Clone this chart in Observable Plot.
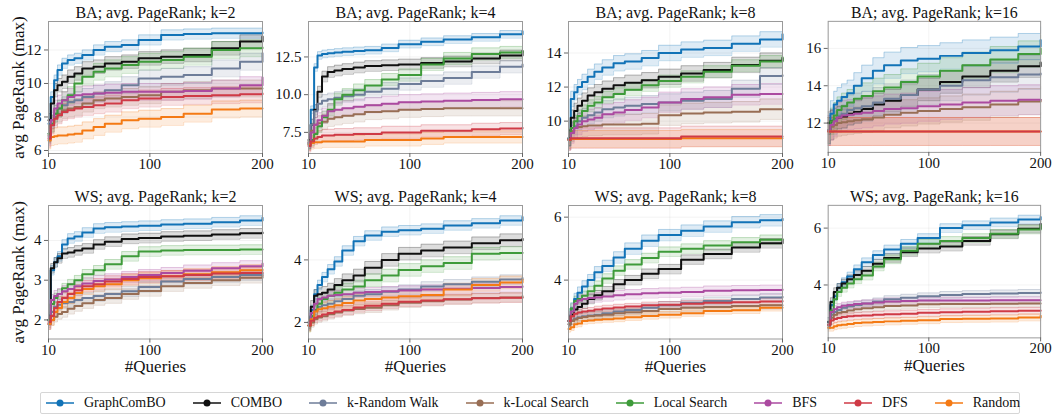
<!DOCTYPE html>
<html>
<head>
<meta charset="utf-8">
<script src="https://cdn.jsdelivr.net/npm/d3@7"></script>
<script src="https://cdn.jsdelivr.net/npm/@observablehq/plot@0.6"></script>
<style>
  html, body { margin: 0; padding: 0; background: #fff; }
  #root { position: relative; width: 1058px; height: 417px; font-family: "Liberation Serif", "DejaVu Serif", serif; }
  .panel { position: absolute; }
  .panel svg, .panel svg text { font-family: "Liberation Serif", "DejaVu Serif", serif !important; font-variant-numeric: normal !important; }
  #legend {
    position: absolute; left: 40px; top: 392px; width: 980px; height: 22px;
    border: 1px solid #d6d6d6; border-radius: 2px; box-sizing: border-box;
    display: flex; align-items: center; padding-left: 5px; gap: 27px;
    font-family: "Liberation Serif", "DejaVu Serif", serif;
    font-size: 14px; color: #111;
  }
  .item { display: flex; align-items: center; gap: 10px; white-space: nowrap; }
</style>
</head>
<body>
<div id="root"><div id="legend"></div></div>
<script>
// Number of queries at which the running best value is recorded
const queries = [10, 12, 15, 18, 22, 27, 33, 40, 50, 60, 75, 90, 110, 130, 155, 180, 200];

const methods = ["GraphComBO", "COMBO", "k-Random Walk", "k-Local Search", "Local Search", "BFS", "DFS", "Random"];
const colors = ["#1273b7", "#101010", "#6e7d99", "#986e55", "#3e9b3a", "#ab4aa0", "#cf3a46", "#f47a14"];
// Stacking order of the curves (later ones are drawn on top)
const drawOrder = ["GraphComBO", "COMBO", "k-Random Walk", "k-Local Search", "Local Search", "BFS", "Random", "DFS"];

// Mean of the best avg. PageRank found so far, one row per method (same order as `methods`)
const baK2 = [
  [7.6, 9.2, 10.2, 10.8, 11.2, 11.4, 11.5, 11.7, 12.0, 12.2, 12.3, 12.6, 12.9, 12.95, 13.0, 13.0, 13.05],
  [7.8, 8.8, 9.6, 9.9, 10.1, 10.4, 10.6, 10.9, 11.0, 11.2, 11.3, 11.5, 11.6, 11.7, 12.1, 12.5, 12.8],
  [7.0, 7.8, 8.2, 8.5, 8.7, 8.9, 9.0, 9.2, 9.4, 9.6, 9.9, 10.3, 10.4, 10.5, 10.9, 11.3, 11.8],
  [6.9, 7.6, 8.0, 8.2, 8.4, 8.5, 8.6, 8.8, 9.0, 9.1, 9.2, 9.3, 9.5, 9.6, 9.7, 9.7, 9.7],
  [7.0, 7.6, 8.2, 8.5, 9.0, 9.3, 10.0, 10.4, 10.7, 10.9, 11.1, 11.3, 11.4, 11.6, 12.0, 12.1, 12.15],
  [6.8, 7.8, 8.5, 8.8, 9.0, 9.2, 9.3, 9.35, 9.4, 9.45, 9.5, 9.5, 9.5, 9.55, 9.7, 9.9, 10.35],
  [6.7, 7.5, 7.9, 8.1, 8.3, 8.4, 8.5, 8.6, 8.7, 8.8, 9.0, 9.1, 9.2, 9.25, 9.3, 9.35, 9.4],
  [6.6, 6.8, 6.85, 6.9, 6.9, 6.95, 7.0, 7.2, 7.4, 7.6, 7.8, 7.9, 8.0, 8.2, 8.45, 8.5, 8.5]
];
const baK4 = [
  [6.7, 9.0, 11.8, 12.6, 12.7, 12.75, 12.8, 12.85, 12.9, 12.95, 13.1, 13.35, 13.5, 13.65, 13.8, 14.0, 14.2],
  [7.0, 8.0, 9.0, 10.2, 11.2, 11.5, 11.6, 11.7, 11.8, 11.9, 11.95, 12.0, 12.1, 12.2, 12.4, 12.6, 12.9],
  [6.8, 8.0, 8.9, 9.4, 9.6, 9.7, 9.8, 9.9, 10.0, 10.2, 10.4, 10.7, 10.9, 11.1, 11.5, 11.85, 12.0],
  [6.9, 7.6, 8.0, 8.1, 8.2, 8.4, 8.5, 8.6, 8.7, 8.85, 8.9, 9.0, 9.05, 9.1, 9.1, 9.1, 9.1],
  [6.8, 7.0, 7.4, 7.9, 8.5, 9.0, 9.7, 10.0, 10.3, 10.6, 11.0, 11.3, 12.0, 12.4, 12.7, 12.8, 12.9],
  [6.8, 7.5, 8.0, 8.3, 8.6, 8.9, 9.0, 9.1, 9.2, 9.3, 9.4, 9.5, 9.55, 9.6, 9.65, 9.7, 9.7],
  [6.6, 6.9, 7.1, 7.2, 7.3, 7.3, 7.35, 7.35, 7.4, 7.4, 7.5, 7.5, 7.6, 7.6, 7.7, 7.75, 7.8],
  [6.7, 6.8, 6.85, 6.85, 6.9, 6.9, 6.9, 6.9, 6.9, 7.0, 7.0, 7.0, 7.1, 7.2, 7.2, 7.2, 7.2]
];
const baK8 = [
  [9.0, 11.3, 11.7, 12.0, 12.3, 12.6, 12.9, 13.15, 13.4, 13.5, 13.7, 14.0, 14.2, 14.3, 14.55, 14.8, 15.1],
  [9.0, 10.2, 10.6, 10.9, 11.2, 11.5, 11.7, 11.9, 12.1, 12.25, 12.4, 12.6, 12.8, 13.0, 13.3, 13.55, 13.7],
  [8.9, 9.4, 9.7, 10.0, 10.2, 10.35, 10.5, 10.7, 10.8, 10.9, 11.0, 11.1, 11.2, 11.3, 11.9, 12.65, 12.7],
  [8.9, 9.4, 9.6, 9.65, 9.7, 9.75, 9.75, 9.8, 9.8, 9.8, 9.85, 10.35, 10.45, 10.5, 10.55, 10.7, 10.7],
  [8.9, 9.6, 10.0, 10.3, 10.6, 10.9, 11.1, 11.4, 11.6, 11.85, 12.1, 12.35, 12.6, 12.9, 13.25, 13.5, 13.75],
  [8.9, 9.3, 9.6, 9.8, 10.0, 10.1, 10.2, 10.4, 10.5, 10.65, 10.8, 11.1, 11.3, 11.4, 11.55, 11.6, 11.6],
  [8.9, 9.0, 9.0, 9.0, 9.0, 9.0, 9.0, 9.0, 9.0, 9.0, 9.0, 9.0, 9.1, 9.1, 9.1, 9.1, 9.1],
  [8.9, 8.95, 8.95, 8.95, 8.95, 8.95, 8.95, 8.95, 8.95, 8.95, 8.95, 8.95, 9.0, 9.0, 9.0, 9.0, 9.0]
];
const baK16 = [
  [11.6, 12.5, 13.0, 13.2, 13.4, 13.6, 14.0, 14.4, 14.8, 15.1, 15.35, 15.45, 15.6, 15.75, 15.9, 16.1, 16.45],
  [12.0, 12.1, 12.2, 12.3, 12.35, 12.5, 12.6, 12.75, 13.0, 13.2, 13.5, 13.8, 14.2, 14.5, 14.8, 15.05, 15.25],
  [11.6, 11.9, 12.2, 12.4, 12.5, 12.7, 12.8, 12.9, 13.1, 13.3, 13.5, 13.8, 14.0, 14.3, 14.45, 14.6, 14.65],
  [11.6, 11.8, 11.9, 12.0, 12.05, 12.1, 12.15, 12.2, 12.3, 12.45, 12.55, 12.65, 12.75, 12.85, 13.0, 13.15, 13.25],
  [11.6, 12.1, 12.4, 12.7, 12.9, 13.1, 13.3, 13.45, 13.7, 13.9, 14.2, 14.5, 14.8, 15.1, 15.4, 15.7, 16.0],
  [11.6, 11.9, 12.1, 12.3, 12.4, 12.45, 12.5, 12.55, 12.65, 12.75, 12.8, 12.9, 13.0, 13.1, 13.2, 13.25, 13.25],
  [11.55, 11.55, 11.55, 11.55, 11.55, 11.55, 11.55, 11.55, 11.55, 11.55, 11.55, 11.55, 11.55, 11.55, 11.55, 11.55, 11.55],
  [11.55, 11.55, 11.55, 11.55, 11.55, 11.55, 11.55, 11.55, 11.55, 11.55, 11.55, 11.55, 11.55, 11.55, 11.55, 11.55, 11.55]
];
const wsK2 = [
  [2.0, 3.25, 3.45, 3.6, 3.9, 4.05, 4.1, 4.2, 4.3, 4.33, 4.35, 4.37, 4.4, 4.42, 4.46, 4.5, 4.57],
  [2.0, 3.3, 3.45, 3.55, 3.67, 3.7, 3.75, 3.8, 3.9, 3.97, 4.04, 4.06, 4.1, 4.12, 4.15, 4.18, 4.2],
  [2.0, 2.2, 2.33, 2.38, 2.42, 2.45, 2.5, 2.55, 2.6, 2.65, 2.72, 2.83, 2.97, 3.03, 3.08, 3.13, 3.17],
  [1.9, 2.0, 2.08, 2.15, 2.2, 2.28, 2.35, 2.42, 2.5, 2.55, 2.65, 2.73, 2.85, 2.93, 3.0, 3.06, 3.12],
  [2.0, 2.4, 2.55, 2.65, 2.8, 2.9, 3.0, 3.15, 3.25, 3.4, 3.6, 3.72, 3.75, 3.76, 3.76, 3.77, 3.77],
  [1.9, 2.5, 2.6, 2.65, 2.72, 2.78, 2.85, 2.92, 2.98, 3.02, 3.08, 3.13, 3.18, 3.24, 3.3, 3.35, 3.42],
  [1.95, 2.1, 2.3, 2.45, 2.55, 2.65, 2.75, 2.85, 2.9, 2.97, 3.03, 3.08, 3.1, 3.13, 3.17, 3.18, 3.2],
  [1.9, 2.0, 2.2, 2.3, 2.45, 2.55, 2.68, 2.78, 2.85, 2.9, 3.0, 3.05, 3.1, 3.15, 3.2, 3.25, 3.27]
];
const wsK4 = [
  [2.0, 2.4, 2.9, 3.2, 3.45, 3.7, 3.95, 4.3, 4.6, 4.78, 4.9, 4.95, 5.0, 5.1, 5.17, 5.26, 5.37],
  [2.0, 2.5, 2.85, 2.9, 2.95, 3.05, 3.2, 3.35, 3.5, 3.75, 4.0, 4.2, 4.3, 4.4, 4.53, 4.63, 4.68],
  [1.9, 2.2, 2.4, 2.5, 2.55, 2.6, 2.68, 2.75, 2.85, 2.9, 2.98, 3.05, 3.15, 3.22, 3.3, 3.37, 3.42],
  [1.9, 2.0, 2.1, 2.16, 2.2, 2.26, 2.32, 2.38, 2.43, 2.47, 2.55, 2.63, 2.68, 2.73, 2.78, 2.8, 2.84],
  [1.9, 2.2, 2.4, 2.6, 2.75, 2.85, 2.95, 3.05, 3.15, 3.35, 3.5, 3.68, 3.8, 3.9, 4.2, 4.22, 4.23],
  [2.0, 2.3, 2.6, 2.75, 2.8, 2.85, 2.88, 2.9, 2.95, 2.97, 3.0, 3.02, 3.05, 3.08, 3.1, 3.13, 3.16],
  [1.9, 2.05, 2.15, 2.2, 2.25, 2.3, 2.35, 2.4, 2.48, 2.53, 2.6, 2.66, 2.7, 2.74, 2.77, 2.79, 2.79],
  [1.9, 2.1, 2.35, 2.42, 2.45, 2.5, 2.55, 2.62, 2.7, 2.75, 2.8, 2.84, 2.88, 3.05, 3.2, 3.28, 3.37]
];
const wsK8 = [
  [2.7, 3.1, 3.4, 3.6, 3.8, 4.0, 4.25, 4.45, 4.72, 5.0, 5.25, 5.43, 5.57, 5.7, 5.84, 5.9, 5.95],
  [2.7, 2.9, 3.07, 3.15, 3.25, 3.4, 3.52, 3.65, 3.87, 4.0, 4.2, 4.35, 4.65, 4.83, 5.04, 5.17, 5.28],
  [2.6, 2.72, 2.78, 2.82, 2.85, 2.88, 2.9, 2.95, 3.0, 3.05, 3.12, 3.2, 3.28, 3.34, 3.4, 3.45, 3.47],
  [2.6, 2.7, 2.75, 2.8, 2.83, 2.86, 2.88, 2.9, 2.95, 2.98, 3.02, 3.08, 3.12, 3.15, 3.18, 3.2, 3.2],
  [2.7, 3.1, 3.34, 3.4, 3.5, 3.65, 3.82, 4.05, 4.3, 4.5, 4.7, 4.9, 5.0, 5.1, 5.2, 5.28, 5.31],
  [2.7, 3.0, 3.25, 3.35, 3.4, 3.43, 3.45, 3.48, 3.52, 3.55, 3.58, 3.6, 3.62, 3.66, 3.68, 3.69, 3.7],
  [2.7, 2.85, 2.93, 2.97, 3.0, 3.03, 3.07, 3.1, 3.13, 3.16, 3.2, 3.22, 3.25, 3.28, 3.3, 3.32, 3.34],
  [2.45, 2.5, 2.6, 2.62, 2.7, 2.72, 2.74, 2.76, 2.78, 2.82, 2.86, 2.9, 2.95, 3.02, 3.04, 3.12, 3.13]
];
const wsK16 = [
  [2.7, 3.3, 3.6, 3.9, 4.1, 4.3, 4.55, 4.8, 5.05, 5.25, 5.45, 5.65, 6.0, 6.1, 6.2, 6.3, 6.39],
  [2.7, 3.4, 3.75, 3.9, 4.05, 4.2, 4.35, 4.5, 4.75, 4.95, 5.15, 5.28, 5.35, 5.55, 5.78, 5.98, 6.15],
  [2.6, 2.95, 3.05, 3.12, 3.2, 3.25, 3.3, 3.35, 3.42, 3.5, 3.55, 3.6, 3.65, 3.68, 3.7, 3.72, 3.74],
  [2.6, 2.85, 2.95, 3.02, 3.05, 3.1, 3.15, 3.18, 3.22, 3.26, 3.28, 3.32, 3.33, 3.33, 3.34, 3.35, 3.35],
  [2.6, 3.1, 3.5, 3.75, 3.9, 4.05, 4.2, 4.33, 4.65, 4.9, 5.2, 5.45, 5.55, 5.65, 5.8, 5.95, 6.1],
  [2.6, 3.05, 3.15, 3.22, 3.27, 3.3, 3.33, 3.35, 3.38, 3.42, 3.44, 3.45, 3.45, 3.45, 3.46, 3.46, 3.46],
  [2.6, 2.75, 2.8, 2.84, 2.87, 2.9, 2.92, 2.93, 2.95, 2.97, 2.99, 3.02, 3.04, 3.06, 3.08, 3.09, 3.1],
  [2.5, 2.5, 2.55, 2.58, 2.6, 2.63, 2.66, 2.68, 2.7, 2.72, 2.74, 2.76, 2.8, 2.81, 2.82, 2.86, 2.92]
];

// Half-width of the shaded spread around each mean (per method)
const baK2Spread  = [0.3, 0.4, 0.5, 0.5, 0.5, 0.5, 0.5, 0.5];
const baK4Spread  = [0.25, 0.35, 0.4, 0.5, 0.4, 0.5, 0.4, 0.4];
const baK8Spread  = [0.45, 0.45, 0.5, 0.6, 0.35, 0.6, 0.6, 0.5];
const baK16Spread = [0.7, 0.6, 0.8, 0.7, 0.7, 0.8, 0.75, 0.75];
const wsK2Spread  = [0.12, 0.12, 0.13, 0.13, 0.12, 0.14, 0.14, 0.14];
const wsK4Spread  = [0.15, 0.2, 0.15, 0.15, 0.2, 0.15, 0.15, 0.2];
const wsK8Spread  = [0.18, 0.15, 0.12, 0.12, 0.15, 0.15, 0.1, 0.1];
const wsK16Spread = [0.15, 0.15, 0.12, 0.12, 0.15, 0.12, 0.12, 0.12];

const xTicks = [10, 100, 200];

const panels = [
  {title: "BA; avg. PageRank; k=2",  values: baK2,  spread: baK2Spread,  y: [5.82, 13.7],  ticks: [6, 8, 10, 12],  fmt: d3.format("d")},
  {title: "BA; avg. PageRank; k=4",  values: baK4,  spread: baK4Spread,  y: [6.1, 14.85],  ticks: [7.5, 10, 12.5], fmt: d3.format(".1f")},
  {title: "BA; avg. PageRank; k=8",  values: baK8,  spread: baK8Spread,  y: [8.1, 15.85],  ticks: [10, 12, 14],    fmt: d3.format("d")},
  {title: "BA; avg. PageRank; k=16", values: baK16, spread: baK16Spread, y: [10.43, 17.45], ticks: [12, 14, 16],   fmt: d3.format("d")},
  {title: "WS; avg. PageRank; k=2",  values: wsK2,  spread: wsK2Spread,  y: [1.52, 4.88],  ticks: [2, 3, 4],       fmt: d3.format("d")},
  {title: "WS; avg. PageRank; k=4",  values: wsK4,  spread: wsK4Spread,  y: [1.47, 5.74],  ticks: [2, 4],          fmt: d3.format("d")},
  {title: "WS; avg. PageRank; k=8",  values: wsK8,  spread: wsK8Spread,  y: [2.13, 6.37],  ticks: [4, 6],          fmt: d3.format("d")},
  {title: "WS; avg. PageRank; k=16", values: wsK16, spread: wsK16Spread, y: [2.14, 6.8],   ticks: [4, 6],          fmt: d3.format("d")}
];

const root = document.getElementById("root");
const font = "'Liberation Serif', 'DejaVu Serif', serif";
const colLeft = [48, 308, 568, 828];

panels.forEach((p, idx) => {
  const row = Math.floor(idx / 4), col = idx % 4;
  const bottomRow = row === 1;
  const rows = [];
  drawOrder.forEach((m) => {
    const i = methods.indexOf(m);
    queries.forEach((q, j) => {
      const v = p.values[i][j];
      rows.push({method: m, q, v, lo: v - p.spread[i], hi: v + p.spread[i]});
    });
  });
  const marks = [
    Plot.gridX(xTicks, {stroke: "#000", strokeOpacity: 0.05}),
    Plot.gridY(p.ticks, {stroke: "#000", strokeOpacity: 0.05}),
    Plot.areaY(rows, {x: "q", y1: "lo", y2: "hi", z: "method", fill: "method", fillOpacity: 0.14, curve: "step-after"}),
    Plot.lineY(rows, {x: "q", y: "lo", z: "method", stroke: "method", strokeOpacity: 0.3, strokeWidth: 0.8, curve: "step-after"}),
    Plot.lineY(rows, {x: "q", y: "hi", z: "method", stroke: "method", strokeOpacity: 0.3, strokeWidth: 0.8, curve: "step-after"}),
    Plot.lineY(rows, {x: "q", y: "v", z: "method", stroke: "method", strokeWidth: 2, curve: "step-after"}),
    Plot.frame({stroke: "#9a9a9a", strokeWidth: 1}),
    Plot.axisX(xTicks, {tickSize: 4, tickPadding: 1, fontSize: 15, fontFamily: font, fontVariant: "normal", label: null, stroke: "#666"}),
    Plot.axisY(p.ticks, {tickSize: 4, tickPadding: 3, fontSize: 15, fontFamily: font, fontVariant: "normal", label: null, tickFormat: p.fmt, stroke: "#666"}),
    Plot.text([p.title], {frameAnchor: "top", dy: -9, textAnchor: "middle", lineAnchor: "middle", fontSize: 16, fontFamily: font, fill: "#111"})
  ];
  if (col === 0) {
    marks.push(Plot.text(["avg PageRank (max)"], {frameAnchor: "left", dx: -30, rotate: -90, textAnchor: "middle", lineAnchor: "middle", fontSize: 17, fontFamily: font, fill: "#111"}));
  }
  if (bottomRow) {
    marks.push(Plot.text(["#Queries"], {frameAnchor: "bottom", dy: 28, textAnchor: "middle", lineAnchor: "middle", fontSize: 17, fontFamily: font, fill: "#111"}));
  }
  const chart = Plot.plot({
    width: 277,
    height: bottomRow ? 200 : 183,
    marginLeft: 45,
    marginRight: 18,
    marginTop: 21,
    marginBottom: bottomRow ? 45.5 : 30,
    style: {fontFamily: font, fontSize: "15px", color: "#111", background: "transparent", overflow: "visible"},
    x: {type: "linear", domain: [10, 200]},
    y: {type: "linear", domain: p.y},
    color: {domain: methods, range: colors},
    marks
  });
  const wrap = document.createElement("div");
  wrap.className = "panel";
  wrap.style.left = (colLeft[col] - 45) + "px";
  wrap.style.top = (bottomRow ? 184 : 0) + "px";
  wrap.appendChild(chart);
  root.appendChild(wrap);
});

// Legend: line with a dot marker followed by the method name
const legend = document.getElementById("legend");
methods.forEach((m, i) => {
  const item = document.createElement("div");
  item.className = "item";
  const sw = d3.create("svg").attr("width", 28).attr("height", 10);
  sw.append("line").attr("x1", 0).attr("x2", 28).attr("y1", 5).attr("y2", 5)
    .attr("stroke", colors[i]).attr("stroke-width", 1.5);
  sw.append("circle").attr("cx", 14).attr("cy", 5).attr("r", 3.5).attr("fill", colors[i]);
  item.appendChild(sw.node());
  const label = document.createElement("span");
  label.textContent = m;
  item.appendChild(label);
  legend.appendChild(item);
});
</script>
</body>
</html>
